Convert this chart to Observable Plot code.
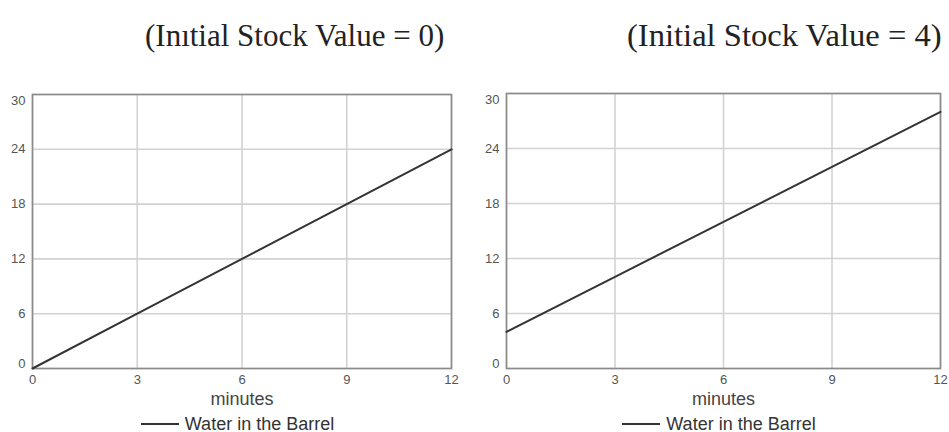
<!DOCTYPE html>
<html>
<head>
<meta charset="utf-8">
<script src="https://cdn.jsdelivr.net/npm/d3@7"></script>
<script src="https://cdn.jsdelivr.net/npm/@observablehq/plot@0.6"></script>
<style>
  html, body { margin: 0; padding: 0; background: #fff; }
  #root { position: relative; width: 949px; height: 432px; overflow: hidden; background: #fff; }
  .title { position: absolute; font-family: "Liberation Serif", "Times New Roman", serif; color: #222; white-space: nowrap; line-height: 1; }
  .panel { position: absolute; }
  .legend { position: absolute; display: flex; align-items: center; justify-content: center; font-family: "Liberation Sans", Arial, sans-serif; font-size: 18px; color: #333; white-space: nowrap; }
  .legend .sw { display: inline-block; width: 38px; height: 0; border-top: 2px solid #333; margin-right: 6px; }
</style>
</head>
<body>
<div id="root"></div>
<script>
// ---- data ----
const titles = ["(Inıtial Stock Value = 0)", "(Initial Stock Value = 4)"];
const minutes = [0, 3, 6, 9, 12];
const waterA = [0, 6, 12, 18, 24];
const waterB = [4, 10, 16, 22, 28];
const xTicks = [0, 3, 6, 9, 12];
const yTicks = [0, 6, 12, 18, 24, 30];
const xLabel = "minutes";
const seriesName = "Water in the Barrel";

const root = document.getElementById("root");

const panels = [
  {values: waterA, title: titles[0], left: 0, width: 474, mL: 32, mR: 23, mT: 14, titleLeft: 145, titleTop: 20, titleSize: 31},
  {values: waterB, title: titles[1], left: 474, width: 475, mL: 32, mR: 9, mT: 13, titleLeft: 627, titleTop: 19, titleSize: 32.6}
];

const svgTop = 80, svgHeight = 330, mB = 42;

panels.forEach(p => {
  const data = minutes.map((m, i) => ({minutes: m, water: p.values[i]}));
  const font = "Liberation Sans, Arial, sans-serif";
  const chart = Plot.plot({
    width: p.width,
    height: svgHeight,
    marginLeft: p.mL,
    marginRight: p.mR,
    marginTop: p.mT,
    marginBottom: mB,
    style: {fontFamily: font, fontSize: "13px", color: "#555", background: "transparent"},
    x: {domain: [0, 12], ticks: xTicks},
    y: {domain: [0, 30], ticks: yTicks},
    marks: [
      Plot.gridX(xTicks, {stroke: "#d2d2d2", strokeOpacity: 1, strokeWidth: 1.6}),
      Plot.gridY(yTicks, {stroke: "#d2d2d2", strokeOpacity: 1, strokeWidth: 1.6}),
      Plot.frame({stroke: "#8a8a8a", strokeWidth: 1.6}),
      Plot.axisX(xTicks, {tickSize: 0, tickPadding: 6, label: null, fill: "#555"}),
      Plot.axisY(yTicks.filter(t => t !== 0 && t !== 30), {tickSize: 0, tickPadding: 7, label: null, fill: "#555"}),
      Plot.axisY([30], {tickSize: 0, tickPadding: 7, label: null, dy: 6.5, fill: "#555"}),
      Plot.axisY([0], {tickSize: 0, tickPadding: 7, label: null, dy: -5, fill: "#555"}),
      Plot.text([xLabel], {frameAnchor: "bottom", dy: 30.5, lineAnchor: "middle", fontSize: 18, fill: "#444"}),
      Plot.line(data, {x: "minutes", y: "water", stroke: "#333", strokeWidth: 2})
    ]
  });
  const wrap = document.createElement("div");
  wrap.className = "panel";
  wrap.style.left = p.left + "px";
  wrap.style.top = svgTop + "px";
  wrap.appendChild(chart);
  root.appendChild(wrap);

  const t = document.createElement("div");
  t.className = "title";
  t.style.left = p.titleLeft + "px";
  t.style.top = p.titleTop + "px";
  t.style.fontSize = p.titleSize + "px";
  t.textContent = p.title;
  root.appendChild(t);

  const lg = document.createElement("div");
  lg.className = "legend";
  lg.style.left = (p.left + p.mL - 4) + "px";
  lg.style.width = (p.width - p.mL - p.mR) + "px";
  lg.style.top = "413px";
  lg.style.height = "22px";
  const sw = document.createElement("span");
  sw.className = "sw";
  const tx = document.createElement("span");
  tx.textContent = seriesName;
  lg.appendChild(sw);
  lg.appendChild(tx);
  root.appendChild(lg);
});
</script>
</body>
</html>
